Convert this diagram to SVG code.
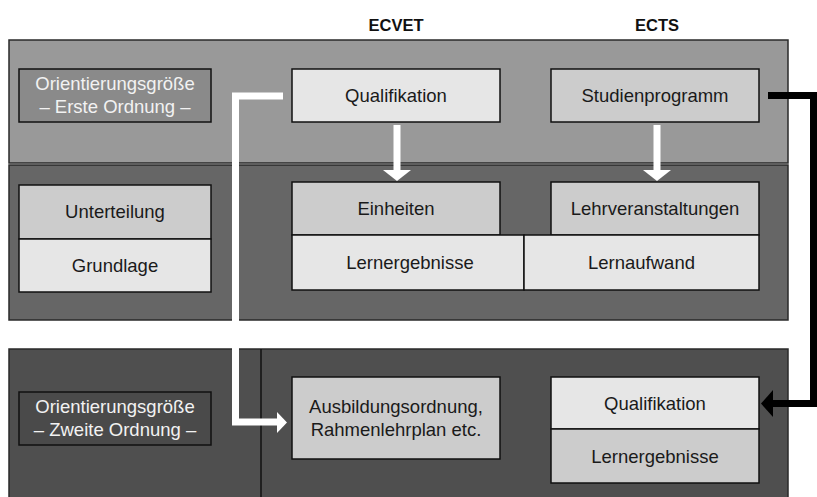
<svg xmlns="http://www.w3.org/2000/svg" width="817" height="497" viewBox="0 0 817 497">
<style>
text{font-family:"Liberation Sans",Arial,sans-serif;font-size:18.5px;text-anchor:middle;fill:#1a1a1a}
.hd{font-weight:bold;font-size:16.5px;fill:#111}
.band{stroke:#2a2a2a;stroke-width:1.5}
.box{stroke:#111;stroke-width:1.5}
.l1{fill:#e6e6e6}
.l2{fill:#cccccc}
.inv{fill:#f2f2f2}
.wl{fill:none;stroke:#fff;stroke-width:7}
.bl{fill:none;stroke:#000;stroke-width:7}
</style>
<rect width="817" height="497" fill="#fff"/>
<g id="headers">
<text class="hd" x="396" y="31">ECVET</text>
<text class="hd" x="657" y="31">ECTS</text>
</g>
<g id="bands">
<rect class="band" x="9" y="40" width="779" height="123" fill="#999999"/>
<rect class="band" x="9" y="165" width="779" height="155" fill="#666666"/>
<rect class="band" x="9" y="349" width="779" height="160" fill="#4f4f4f"/>
<line x1="261" y1="349" x2="261" y2="497" stroke="#111" stroke-width="1.5"/>
</g>
<g id="ord1">
<rect class="box" x="19" y="69" width="192" height="53" fill="#8a8a8a"/>
<text class="inv" x="115" y="90">Orientierungsgröße</text>
<text class="inv" x="115" y="113">– Erste Ordnung –</text>
</g>
<g id="unterteilung">
<rect class="box l2" x="19" y="185" width="192" height="54"/>
<text x="115" y="218">Unterteilung</text>
</g>
<g id="grundlage">
<rect class="box l1" x="19" y="239" width="192" height="53"/>
<text x="115" y="272">Grundlage</text>
</g>
<g id="ord2">
<rect class="box" x="19" y="392" width="192" height="53" fill="#4a4a4a"/>
<text class="inv" x="115" y="413">Orientierungsgröße</text>
<text class="inv" x="115" y="436">– Zweite Ordnung –</text>
</g>
<g id="ecvet-qualifikation">
<rect class="box l1" x="292" y="69" width="208" height="53"/>
<text x="396" y="102">Qualifikation</text>
</g>
<g id="einheiten">
<rect class="box l2" x="292" y="182" width="208" height="53"/>
<text x="396" y="215">Einheiten</text>
</g>
<g id="ecvet-lernergebnisse">
<rect class="box l1" x="292" y="235" width="232" height="55"/>
<text x="410" y="269">Lernergebnisse</text>
</g>
<g id="ausbildungsordnung">
<rect class="box l2" x="292" y="377" width="208" height="82"/>
<text x="396" y="413">Ausbildungsordnung,</text>
<text x="396" y="436">Rahmenlehrplan etc.</text>
</g>
<g id="studienprogramm">
<rect class="box l2" x="551" y="69" width="208" height="53"/>
<text x="655" y="102">Studienprogramm</text>
</g>
<g id="lehrveranstaltungen">
<rect class="box l2" x="551" y="182" width="208" height="53"/>
<text x="655" y="215">Lehrveranstaltungen</text>
</g>
<g id="lernaufwand">
<rect class="box l1" x="524" y="235" width="235" height="55"/>
<text x="641.5" y="269">Lernaufwand</text>
</g>
<g id="ects-qualifikation">
<rect class="box l1" x="551" y="377" width="208" height="52"/>
<text x="655" y="410">Qualifikation</text>
</g>
<g id="ects-lernergebnisse">
<rect class="box l2" x="551" y="429" width="208" height="54"/>
<text x="655" y="463">Lernergebnisse</text>
</g>
<g id="connectors">
<line class="wl" x1="397" y1="125" x2="397" y2="171"/>
<polygon points="383,170 411,170 397,181" fill="#fff"/>
<line class="wl" x1="657" y1="125" x2="657" y2="171"/>
<polygon points="643,170 671,170 657,181" fill="#fff"/>
<polyline class="wl" points="283,96 235.5,96 235.5,422 279,422"/>
<polygon points="277,412 277,433 287,422.5" fill="#fff"/>
<polyline class="bl" points="768,95.5 813.5,95.5 813.5,403.5 772,403.5"/>
<polygon points="773,390 773,417 761,403.5" fill="#000"/>
</g>
</svg>
